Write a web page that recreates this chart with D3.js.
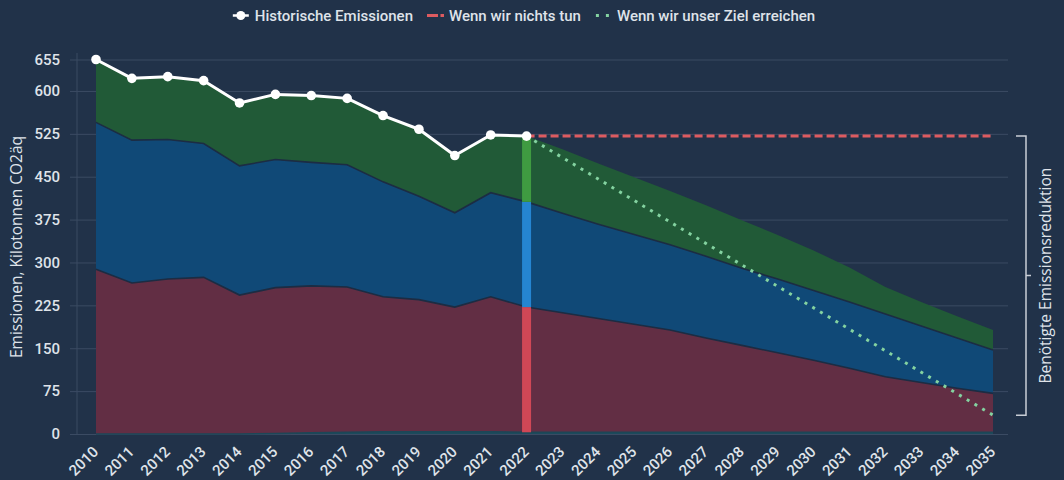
<!DOCTYPE html>
<html>
<head>
<meta charset="utf-8">
<script src="https://cdn.jsdelivr.net/npm/d3@7"></script>
<style>
  html, body { margin: 0; padding: 0; background: #213249; }
  svg { display: block; }
  text { font-family: Roboto, "Open Sans", sans-serif; fill: #dfe3e9; }
</style>
</head>
<body>
<svg id="chart" width="1064" height="480"></svg>
<script>
// years 2010..2035
var years = [2010, 2011, 2012, 2013, 2014, 2015, 2016, 2017, 2018, 2019, 2020, 2021, 2022,
  2023, 2024, 2025, 2026, 2027, 2028, 2029, 2030, 2031, 2032, 2033, 2034, 2035];

// stacked layers (own value, not cumulative)
var teal   = [0, 0, 0, 0, 0, 1, 2, 3, 4, 4, 4, 4, 3,
  3, 3, 3, 3, 3, 3, 3, 3, 3, 3, 3, 3, 3];
var maroon = [288, 264, 271, 274, 243, 255, 257, 254, 236, 231, 218, 236, 219,
  209, 199, 189, 179, 165, 152, 139, 126, 112, 97, 87, 77, 68];
var blue   = [257, 250, 244, 234, 226, 224, 216, 214, 201, 181, 165, 182, 184,
  174, 165, 157, 149, 143, 135, 129, 122, 116, 110, 99, 88, 76];
var green  = [110, 108, 110, 110, 110, 114, 117, 116, 116, 117, 100, 101, 115,
  112, 106, 100, 94, 89, 84, 77, 70, 60, 47, 42, 38, 35];

// line series
var histYears = years.slice(0, 13);
var historic = [655, 622, 625, 618, 579, 594, 592, 587, 557, 533, 487, 523, 521];
var nothing = [[2022, 521], [2035, 521]];
var target  = [[2022, 521], [2035, 33]];

var yTicks = [0, 75, 150, 225, 300, 375, 450, 525, 600, 655];
var legendItems = ["Historische Emissionen", "Wenn wir nichts tun", "Wenn wir unser Ziel erreichen"];

var svg = d3.select("#chart");
var x = d3.scalePoint().domain(years).range([96, 993]);
var y = d3.scaleLinear().domain([0, 655]).range([434, 59.5]);

// grid + y labels
var yAxis = svg.append("g")
  .attr("transform", "translate(70,0)")
  .call(d3.axisLeft(y).tickValues(yTicks).tickSize(-(1008 - 70)).tickPadding(10));
yAxis.select(".domain").remove();
yAxis.selectAll("line").attr("stroke", "#3b4b63").attr("stroke-width", 1);
yAxis.selectAll("text").style("font-size", "15px").style("font-weight", 500).attr("fill", "#dfe3e9");

svg.append("line")
  .attr("x1", 77).attr("x2", 77).attr("y1", 53).attr("y2", 434)
  .attr("stroke", "#3b4b63");

// stacked areas
var rows = years.map(function(yr, i){
  return {year: yr, teal: teal[i], maroon: maroon[i], blue: blue[i], green: green[i]};
});
var keys = ["teal", "maroon", "blue", "green"];
var colors = {teal: "#1c4a5c", maroon: "#622e44", blue: "#104977", green: "#215a37"};
var series = d3.stack().keys(keys)(rows);

var area = d3.area()
  .x(function(d){ return x(d.data.year); })
  .y0(function(d){ return y(d[0]); })
  .y1(function(d){ return y(d[1]); });
var topLine = d3.line()
  .x(function(d){ return x(d.data.year); })
  .y(function(d){ return y(d[1]); });

svg.append("g").selectAll("path.layer")
  .data(series)
  .enter().append("path")
  .attr("class", "layer")
  .attr("fill", function(s){ return colors[s.key]; })
  .attr("d", area);

svg.append("g").selectAll("path.edge")
  .data(series.slice(0, 3))
  .enter().append("path")
  .attr("class", "edge")
  .attr("fill", "none")
  .attr("stroke", function(s){ return s.key === "teal" ? "#1d4657" : "#1c2c43"; })
  .attr("stroke-width", 1.6)
  .attr("d", topLine);

// highlight bars at 2022
var barColors = {maroon: "#d04756", blue: "#2585d1", green: "#3f9b41"};
var i22 = years.indexOf(2022);
svg.append("g").selectAll("rect")
  .data(series.slice(1))
  .enter().append("rect")
  .attr("x", x(2022) - 4.5)
  .attr("width", 9)
  .attr("y", function(s){ return y(s[i22][1]); })
  .attr("height", function(s){ return y(s[i22][0]) - y(s[i22][1]); })
  .attr("fill", function(s){ return barColors[s.key]; });

// scenario lines
var pairLine = d3.line()
  .x(function(d){ return x(d[0]); })
  .y(function(d){ return y(d[1]); });

svg.append("path").datum(nothing)
  .attr("fill", "none").attr("stroke", "#dd5b60").attr("stroke-width", 3)
  .attr("stroke-dasharray", "8,4")
  .attr("d", pairLine);

svg.append("path").datum(target)
  .attr("fill", "none").attr("stroke", "#84d3a1").attr("stroke-width", 3)
  .attr("stroke-dasharray", "3,6")
  .attr("d", pairLine);

// historic line
var histData = histYears.map(function(yr, i){ return [yr, historic[i]]; });
svg.append("path").datum(histData)
  .attr("fill", "none").attr("stroke", "#ffffff").attr("stroke-width", 3)
  .attr("stroke-linejoin", "round")
  .attr("d", pairLine);
svg.append("g").selectAll("circle")
  .data(histData)
  .enter().append("circle")
  .attr("cx", function(d){ return x(d[0]); })
  .attr("cy", function(d){ return y(d[1]); })
  .attr("r", 4.8)
  .attr("fill", "#ffffff");

// x axis
var xAxis = svg.append("g")
  .attr("transform", "translate(0,434)")
  .call(d3.axisBottom(x).tickSize(0).tickFormat(d3.format("d")));
xAxis.select(".domain").remove();
xAxis.selectAll("text")
  .attr("y", 0).attr("dy", "0.35em")
  .attr("text-anchor", "end")
  .attr("transform", "translate(-1,15) rotate(-45)")
  .style("font-size", "15px").style("font-weight", 500).attr("fill", "#dfe3e9");

// axis title
svg.append("text")
  .attr("transform", "translate(22,247) rotate(-90)")
  .attr("text-anchor", "middle")
  .style("font-family", "'Open Sans', sans-serif")
  .style("font-size", "15.5px")
  .text("Emissionen, Kilotonnen CO2äq");

// bracket on the right
var bTop = y(nothing[1][1]), bBot = y(target[1][1]), bMid = (bTop + bBot) / 2;
svg.append("path")
  .attr("fill", "none").attr("stroke", "#c9ced6").attr("stroke-width", 1.5)
  .attr("d", "M1016," + bTop + "H1026V" + bBot + "H1016M1026," + bMid + "H1031");
svg.append("text")
  .attr("transform", "translate(1051," + bMid + ") rotate(-90)")
  .attr("text-anchor", "middle")
  .style("font-family", "'Open Sans', sans-serif")
  .style("font-size", "15.5px")
  .text("Benötigte Emissionsreduktion");

// legend
var legend = svg.append("g");
var items = legend.selectAll("g")
  .data(legendItems)
  .enter().append("g");
items.append("text")
  .attr("x", 22).attr("y", 21)
  .style("font-size", "15px").style("font-weight", 500)
  .text(function(d){ return d; });

var widths = [];
items.each(function(){ widths.push(this.getBBox().width + 22); });
var gap = 14, total = d3.sum(widths) + gap * (widths.length - 1);
var pos = 524 - total / 2;
items.attr("transform", function(d, i){
  var t = "translate(" + pos + ",0)";
  pos += widths[i] + gap;
  return t;
});

var h = items.filter(function(d, i){ return i === 0; });
h.append("line").attr("x1", 0).attr("x2", 16).attr("y1", 15.5).attr("y2", 15.5)
  .attr("stroke", "#fff").attr("stroke-width", 2.5);
h.append("circle").attr("cx", 8).attr("cy", 15.5).attr("r", 4.5).attr("fill", "#fff");

items.filter(function(d, i){ return i === 1; })
  .append("line").attr("x1", 0).attr("x2", 17).attr("y1", 15.5).attr("y2", 15.5)
  .attr("stroke", "#dd5b60").attr("stroke-width", 3).attr("stroke-dasharray", "11,2.5");

items.filter(function(d, i){ return i === 2; })
  .append("line").attr("x1", 1).attr("x2", 15).attr("y1", 15.5).attr("y2", 15.5)
  .attr("stroke", "#84d3a1").attr("stroke-width", 3).attr("stroke-dasharray", "3,7");
</script>
</body>
</html>
